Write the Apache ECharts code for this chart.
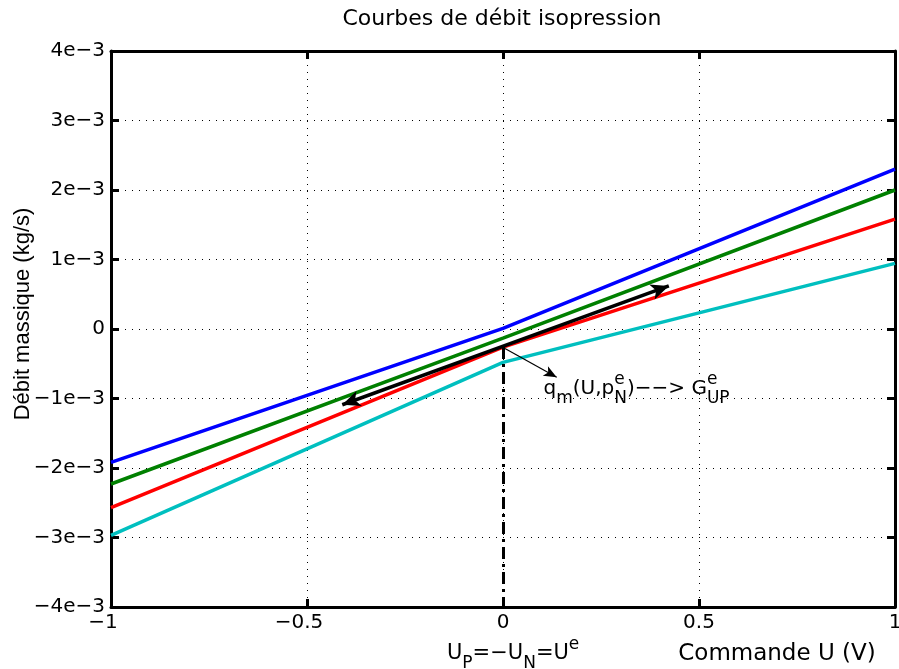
<!DOCTYPE html>
<html><head><meta charset="utf-8">
<script src="https://cdn.jsdelivr.net/npm/echarts@6/dist/echarts.min.js"></script>
<style>html,body{margin:0;padding:0;background:#fff}#c{width:899px;height:669px}</style>
</head><body><div id="c"></div>
<script>
// ---- data ----
const uPoints = [-1, 0, 1];
const blueFlow  = [-0.00192, 0.00001, 0.00230];
const greenFlow = [-0.00223, -0.00013, 0.00200];
const redFlow   = [-0.00257, -0.00026, 0.00158];
const cyanFlow  = [-0.00297, -0.00048, 0.000945];
const xTickValues = [-1, -0.5, 0, 0.5, 1];
const xTickLabels = ['−1', '−0.5', '0', '0.5', '1'];
const yTickValues = [-0.004, -0.003, -0.002, -0.001, 0, 0.001, 0.002, 0.003, 0.004];
const yTickLabels = ['−4e−3', '−3e−3', '−2e−3', '−1e−3', '0', '1e−3', '2e−3', '3e−3', '4e−3'];
const arrowU = [-0.41, 0.423];
const arrowQ = [-0.00109, 0.00062];
const pointerU = [0.005, 0.137];
const pointerQ = [-0.00028, -0.000695];
const operatingU = 0, operatingQ = -0.00026, floorQ = -0.004;
const annotationU = 0.102, annotationQ = -0.00086;

const FONT_H = 'DejaVu Sans';
function nearestIdx(arr, v) {
  let b = 0; for (let i = 1; i < arr.length; i++) if (Math.abs(arr[i] - v) < Math.abs(arr[b] - v)) b = i; return b;
}
const pts = ys => uPoints.map((u, i) => [u, ys[i]]);
const lineSeries = (name, ys, color) => ({
  name, type: 'line', data: pts(ys), symbol: 'none', silent: true,
  lineStyle: { color, width: 3.5 }, z: 3
});
const rich = {
  n: { fontFamily: FONT_H, fontSize: 20, lineHeight: 36, verticalAlign: 'middle', color: '#000' },
  sub: { fontFamily: FONT_H, fontSize: 17, lineHeight: 17, verticalAlign: 'bottom', color: '#000' },
  sup: { fontFamily: FONT_H, fontSize: 17, lineHeight: 17, verticalAlign: 'top', color: '#000' },
  supz: { fontFamily: FONT_H, fontSize: 17, lineHeight: 17, verticalAlign: 'top', width: 0, align: 'left', color: '#000' }
};
const rich2 = JSON.parse(JSON.stringify(rich));
rich2.n.fontSize = 21; rich2.sub.fontSize = 17; rich2.sup.fontSize = 17;

const chart = echarts.init(document.getElementById('c'));
const axisCommon = {
  type: 'value', axisLine: { show: true, onZero: false, lineStyle: { color: '#000', width: 3 } },
  axisTick: { show: true, inside: true, length: 8, lineStyle: { color: '#000', width: 3 } }
};
chart.setOption({
  animation: false,
  backgroundColor: '#fff',
  grid: { left: 111, right: 4, top: 51, bottom: 62, show: false, containLabel: false, outerBoundsMode: 'none' },
  xAxis: [
    Object.assign({}, axisCommon, {
      min: -1, max: 1, interval: 0.5, position: 'bottom',
      splitLine: { show: true, lineStyle: { color: '#000', width: 1, type: [1, 6] } },
      axisLabel: {
        margin: 6, color: '#000', fontFamily: FONT_H, fontSize: 20,
        formatter: v => { const i = nearestIdx(xTickValues, v); const t = xTickLabels[i]; return xTickValues[i] < 0 ? '{neg|' + t + '}' : '{pos|' + t + '}'; },
        rich: { neg: { fontFamily: FONT_H, fontSize: 20, color: '#000', padding: [0, 16, 0, 0] }, pos: { fontFamily: FONT_H, fontSize: 20, color: '#000' } }
      }
    }),
    Object.assign({}, axisCommon, {
      min: -1, max: 1, interval: 0.5, position: 'top', axisLabel: { show: false }, splitLine: { show: false }
    })
  ],
  yAxis: [
    Object.assign({}, axisCommon, {
      min: -0.004, max: 0.004, interval: 0.001, position: 'left',
      splitLine: { show: true, lineStyle: { color: '#000', width: 1, type: [1, 6] } },
      axisLabel: {
        margin: 6, color: '#000', fontFamily: FONT_H, fontSize: 20,
        formatter: v => yTickLabels[nearestIdx(yTickValues, v)]
      }
    }),
    Object.assign({}, axisCommon, {
      min: -0.004, max: 0.004, interval: 0.001, position: 'right', axisLabel: { show: false }, splitLine: { show: false }
    })
  ],
  series: [
    lineSeries('blue', blueFlow, '#0000ff'),
    lineSeries('green', greenFlow, '#008000'),
    lineSeries('red', redFlow, '#ff0000'),
    lineSeries('cyan', cyanFlow, '#00bfbf'),
    {
      type: 'line', data: [], silent: true, z: 4,
      markLine: {
        silent: true, animation: false, label: { show: false }, symbol: ['none', 'none'],
        lineStyle: { color: '#000', width: 3, type: [12, 5, 3, 5] },
        data: [[{ coord: [operatingU, operatingQ] }, { coord: [operatingU, floorQ] }]]
      }
    },
    {
      type: 'line', data: [], silent: true, z: 5,
      markLine: {
        silent: true, animation: false, label: { show: false }, symbol: ['arrow', 'arrow'], symbolSize: [12, 18],
        lineStyle: { color: '#000', width: 3.5, type: 'solid' },
        data: [[{ coord: [arrowU[0], arrowQ[0]] }, { coord: [arrowU[1], arrowQ[1]] }]]
      }
    },
    {
      type: 'line', data: [], silent: true, z: 5,
      markLine: {
        silent: true, animation: false, label: { show: false }, symbol: ['none', 'arrow'], symbolSize: [8, 13],
        lineStyle: { color: '#000', width: 1.2, type: 'solid' },
        data: [[{ coord: [pointerU[0], pointerQ[0]] }, { coord: [pointerU[1], pointerQ[1]] }]]
      },
      markPoint: {
        silent: true, animation: false, symbol: 'circle', symbolSize: 1,
        itemStyle: { color: 'rgba(0,0,0,0)' },
        label: {
          show: true, position: 'right', distance: 0,
          formatter: '{n|q}{sub|m}{n|(U,p}{supz|e}{sub|N}{n|)−−> G}{supz|e}{sub|UP}',
          rich: rich
        },
        data: [{ coord: [annotationU, annotationQ] }]
      }
    }
  ],
  graphic: [
    { type: 'text', x: 502, y: 19, silent: true,
      style: { text: 'Courbes de débit isopression', font: '22px "DejaVu Sans"', fill: '#000', textAlign: 'center', textVerticalAlign: 'middle' } },
    { type: 'text', x: 23, y: 314, rotation: Math.PI / 2, silent: true,
      style: { text: 'Débit massique (kg/s)', font: '22px "Liberation Sans"', fill: '#000', textAlign: 'center', textVerticalAlign: 'middle' } },
    { type: 'text', x: 777, y: 654, silent: true,
      style: { text: 'Commande U (V)', font: '23px "DejaVu Sans"', fill: '#000', textAlign: 'center', textVerticalAlign: 'middle' } },
    { type: 'text', x: 447, y: 654, silent: true,
      style: { text: '{n|U}{sub|P}{n|=−U}{sub|N}{n|=U}{sup|e}', rich: rich2, fill: '#000', textAlign: 'left', textVerticalAlign: 'middle' } }
  ]
});
</script></body></html>
